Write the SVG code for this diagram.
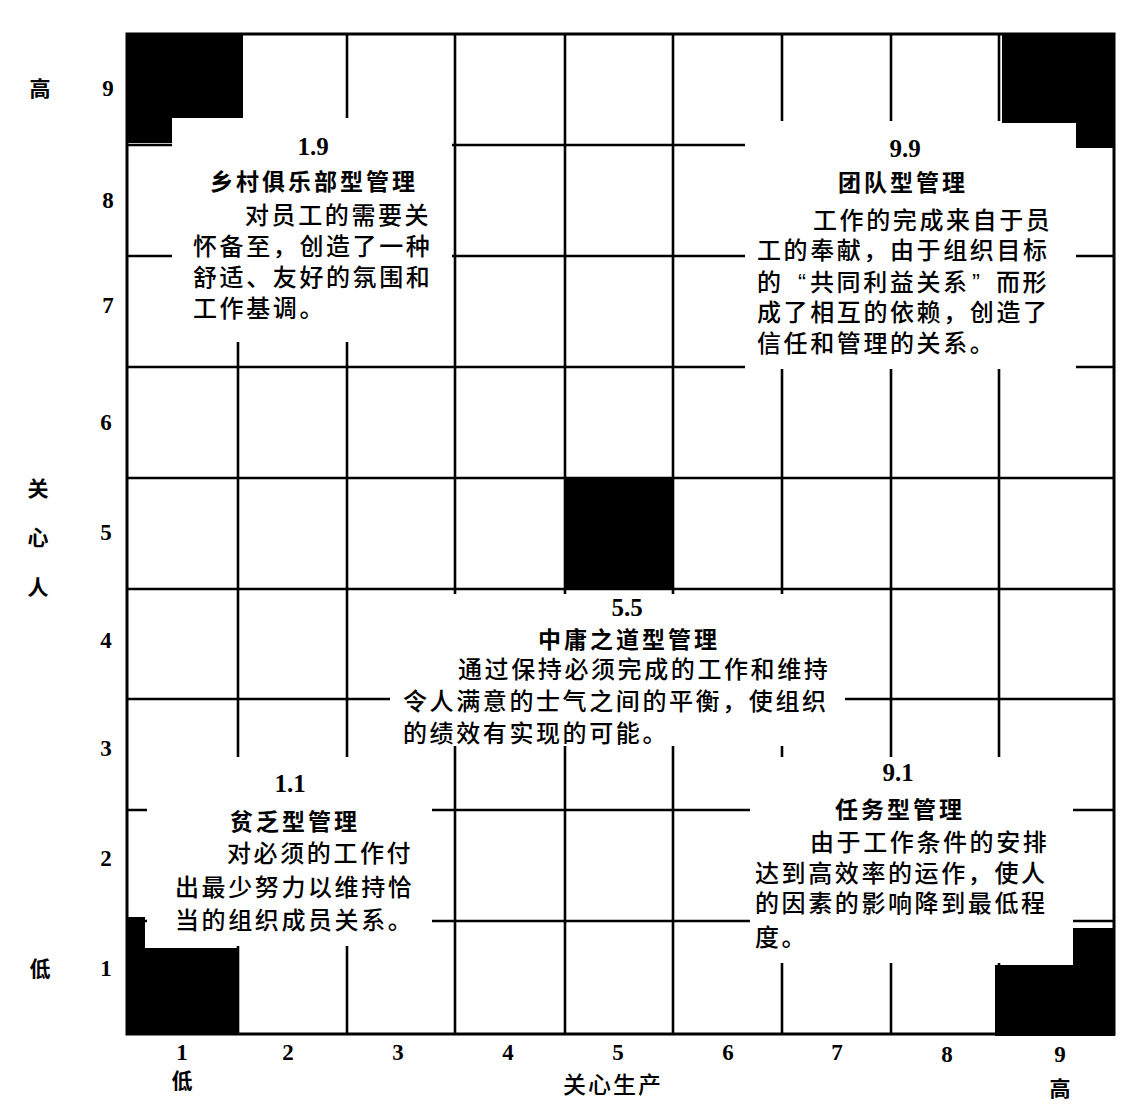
<svg xmlns="http://www.w3.org/2000/svg" width="1125" height="1107" viewBox="0 0 1125 1107">
<style>
.g{stroke:#000;stroke-width:2.6;fill:none}
.b{stroke:#000;stroke-width:3;fill:none}
.m{fill:#fff}
.k{fill:#000}
.n{font-family:"Liberation Serif",serif;font-weight:bold;font-size:25px;fill:#000;text-anchor:middle}
.ax{font-family:"Liberation Serif",serif;font-weight:bold;font-size:23px;fill:#000;text-anchor:middle}
.t{font-family:"Liberation Sans","Noto Sans CJK SC",sans-serif;font-weight:bold;font-size:23px;letter-spacing:3px;fill:#000}
.p{font-family:"Liberation Sans","Noto Sans CJK SC",sans-serif;font-weight:500;font-size:24px;letter-spacing:2.6px;fill:#000}
.c{font-family:"Liberation Sans","Noto Sans CJK SC",sans-serif;font-weight:bold;font-size:21px;fill:#000;text-anchor:middle}
</style>
<rect width="1125" height="1107" fill="#fff"/>
<g id="connectors">
<g id="grid-lines">
<path class="g" d="M238,34V1034M347,34V1034M455,34V1034M565,34V1034M673,34V1034M782,34V1034M891,34V1034M999,34V1034"/>
<path class="g" d="M127,145H1114M127,256H1114M127,367H1114M127,478H1114M127,589H1114M127,699H1114M127,810H1114M127,921H1114"/>
</g>
<g id="masks">
<rect class="m" x="172" y="118" width="280" height="224"/>
<rect class="m" x="745" y="121" width="331" height="248"/>
<rect class="m" x="390" y="594" width="455" height="152"/>
<rect class="m" x="147" y="757" width="285" height="189"/>
<rect class="m" x="750" y="757" width="323" height="206"/>
</g>
<rect id="border" class="b" x="127" y="34" width="987" height="1000"/>
</g>
<g id="blocks">
<path id="block-1-9" class="k" d="M126,33H243V118H172V143H126Z"/>
<path id="block-9-9" class="k" d="M1002,33H1115V148H1076V123H1002Z"/>
<rect id="block-5-5" class="k" x="565" y="478" width="108" height="111"/>
<path id="block-1-1" class="k" d="M126,917H145V948H237V1035H126Z"/>
<path id="block-9-1" class="k" d="M1073,928H1115V1036H995V965H1073Z"/>
</g>
<g id="node-1-9">
<text class="n" x="313" y="155">1.9</text>
<text class="t" x="210" y="190">乡村俱乐部型管理</text>
<text class="p" x="245" y="224">对员工的需要关</text>
<text class="p" x="193" y="255">怀备至，创造了一种</text>
<text class="p" x="193" y="286">舒适、友好的氛围和</text>
<text class="p" x="193" y="317">工作基调。</text>
</g>
<g id="node-9-9">
<text class="n" x="905" y="157">9.9</text>
<text class="t" x="838" y="191">团队型管理</text>
<text class="p" x="813" y="229">工作的完成来自于员</text>
<text class="p" x="757" y="259">工的奉献，由于组织目标</text>
<text class="p" x="757" y="291">的<tspan x="798">“</tspan><tspan x="810">共同利益关系</tspan><tspan x="972">”</tspan><tspan x="996">而形</tspan></text>
<text class="p" x="757" y="321">成了相互的依赖，创造了</text>
<text class="p" x="757" y="352">信任和管理的关系。</text>
</g>
<g id="node-5-5">
<text class="n" x="627" y="616">5.5</text>
<text class="t" x="538" y="648">中庸之道型管理</text>
<text class="p" x="458" y="678">通过保持必须完成的工作和维持</text>
<text class="p" x="403" y="710">令人满意的士气之间的平衡，使组织</text>
<text class="p" x="403" y="742">的绩效有实现的可能。</text>
</g>
<g id="node-1-1">
<text class="n" x="290" y="792">1.1</text>
<text class="t" x="230" y="830">贫乏型管理</text>
<text class="p" x="227" y="862">对必须的工作付</text>
<text class="p" x="175" y="896">出最少努力以维持恰</text>
<text class="p" x="175" y="929">当的组织成员关系。</text>
</g>
<g id="node-9-1">
<text class="n" x="898" y="781">9.1</text>
<text class="t" x="835" y="818">任务型管理</text>
<text class="p" x="810" y="851">由于工作条件的安排</text>
<text class="p" x="755" y="882">达到高效率的运作，使人</text>
<text class="p" x="755" y="912">的因素的影响降到最低程</text>
<text class="p" x="755" y="946">度。</text>
</g>
<g id="y-axis">
<text class="ax" x="108" y="96">9</text>
<text class="ax" x="108" y="208">8</text>
<text class="ax" x="108" y="313">7</text>
<text class="ax" x="106" y="430">6</text>
<text class="ax" x="106" y="540">5</text>
<text class="ax" x="106" y="648">4</text>
<text class="ax" x="106" y="756">3</text>
<text class="ax" x="106" y="866">2</text>
<text class="ax" x="106" y="976">1</text>
<text class="c" x="40" y="96">高</text>
<text class="c" x="40" y="976">低</text>
<text class="c" x="38" y="496">关</text>
<text class="c" x="38" y="545">心</text>
<text class="c" x="38" y="595">人</text>
</g>
<g id="x-axis">
<text class="ax" x="182" y="1060">1</text>
<text class="ax" x="288" y="1060">2</text>
<text class="ax" x="398" y="1060">3</text>
<text class="ax" x="508" y="1060">4</text>
<text class="ax" x="618" y="1060">5</text>
<text class="ax" x="728" y="1060">6</text>
<text class="ax" x="837" y="1060">7</text>
<text class="ax" x="947" y="1062">8</text>
<text class="ax" x="1060" y="1062">9</text>
<text class="c" x="182" y="1088">低</text>
<text class="c" x="1060" y="1096">高</text>
<text class="p" x="563" y="1093" style="font-size:23px;letter-spacing:2px">关心生产</text>
</g>
</svg>
